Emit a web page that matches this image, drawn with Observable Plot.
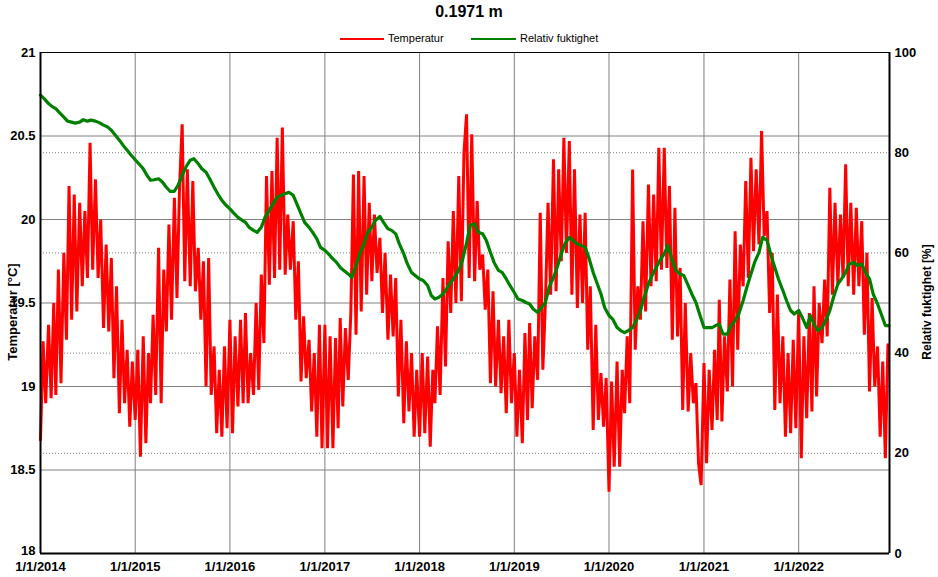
<!DOCTYPE html>
<html><head><meta charset="utf-8">
<script src="https://cdn.jsdelivr.net/npm/d3@7"></script>
<script src="https://cdn.jsdelivr.net/npm/@observablehq/plot@0.6"></script>
<style>
body{margin:0;background:#fff;font-family:"Liberation Sans",Arial,sans-serif;color:#000;}
#wrap{position:relative;width:938px;height:577px;overflow:hidden;}
#head{position:relative;width:938px;height:46px;}
.title{position:absolute;left:0;width:938px;top:3px;text-align:center;font-weight:bold;font-size:16px;}
.lg-line{position:absolute;height:2px;top:38px;}
.lg-text{position:absolute;top:32px;font-size:11px;white-space:nowrap;}
.ylab{position:absolute;font-weight:bold;font-size:13px;white-space:nowrap;transform:translate(-50%,-50%) rotate(-90deg);}
</style>
</head><body>
<div id="wrap">
  <div id="head">
    <div class="title">0.1971 m</div>
    <div class="lg-line" style="left:340px;width:44px;background:#ff0000"></div>
    <div class="lg-text" style="left:388px">Temperatur</div>
    <div class="lg-line" style="left:471px;width:45px;background:#008000"></div>
    <div class="lg-text" style="left:520px">Relativ fuktighet</div>
  </div>
  <div id="chart"></div>
  <div class="ylab" style="left:12px;top:312px">Temperatur [°C]</div>
  <div class="ylab" style="left:927px;top:302px;font-size:12px">Relativ fuktighet [%]</div>
</div>
<script>
// Tick values
const yearTickYears = [2014, 2015, 2016, 2017, 2018, 2019, 2020, 2021, 2022];
const tempTicks = [18.5, 19, 19.5, 20, 20.5, 21];
const tempBottomTick = [18];
const tempGrid = [18.5, 19, 19.5, 20, 20.5];
const rhTicks = [0, 20, 40, 60, 80, 100];
const rhGrid = [20, 40, 60, 80];

// Temperature [°C], readings on day 1, 11, 21 of each month
const temp2014 = [18.68,19.27,18.9, 19.37,18.93,19.5, 18.95,19.7,19.02, 19.8,19.28,20.2, 19.4,20.15,19.45, 20.1,19.6,20.05, 19.65,20.46,19.7, 20.24,19.65,20.0, 19.35,19.85,19.33, 19.77,19.05,19.6, 18.84,19.4,18.9, 19.22,18.76,19.15];
const temp2015 = [18.8,19.22,18.58, 19.3,18.66,19.2, 18.9,19.43,18.95, 19.83,18.9,19.7, 19.33,19.97,19.4, 20.13,19.53,20.2, 20.57,19.63,20.3, 19.6,20.23,19.57, 19.83,19.4,19.75, 19.0,19.77,18.95, 19.24,18.72,19.1, 18.7,19.24,18.75];
const temp2016 = [19.4,18.72,19.3, 18.88,19.4,18.9, 19.44,18.9,19.2, 18.95,19.5,18.98, 19.67,19.26,20.26, 19.61,20.29,19.65, 20.49,19.7,20.55, 19.67,20.03,19.7, 19.99,19.4,19.75, 19.03,19.42,19.05, 19.28,18.85,19.2, 18.7,19.37,18.63];
const temp2017 = [19.37,18.63,19.3, 18.63,19.29,18.75, 19.41,18.88,19.35, 19.04,19.44,20.27, 19.31,20.29,19.45, 20.26,19.55,20.1, 19.63,20.03,19.68, 19.89,19.44,19.8, 19.28,19.67,19.3, 19.65,18.94,19.4, 18.78,19.27,18.85, 19.2,18.7,19.1];
const temp2018 = [18.7,19.2,18.72, 19.18,18.64,19.1, 18.9,19.36,18.95, 19.65,19.12,19.87, 19.44,20.05,19.5, 20.26,19.51,20.4, 20.63,19.65,20.51, 19.63,20.11,19.7, 19.79,19.46,19.7, 19.02,19.57,19.0, 19.4,18.96,19.3, 18.84,19.4,18.9];
const temp2019 = [19.2,18.7,19.1, 18.66,19.32,18.8, 19.38,18.87,19.3, 19.04,20.04,19.1, 19.51,20.1,19.55, 20.36,19.57,20.3, 19.75,20.49,19.8, 20.47,19.55,20.3, 19.47,20.03,19.5, 20.04,19.22,19.6, 18.74,19.37,18.8, 19.08,18.76,19.05];
const temp2020 = [18.37,19.03,18.52, 19.15,18.52,19.1, 18.84,19.3,18.9, 20.3,19.22,19.6, 19.4,19.99,19.45, 20.21,19.6,20.15, 19.63,20.43,19.7, 20.43,19.71,20.2, 19.28,20.07,19.3, 19.71,18.86,19.5, 18.85,19.2,18.9, 19.02,18.54,18.41];
const temp2021 = [19.14,18.54,19.1, 18.74,19.22,18.8, 19.52,18.79,19.3, 18.97,19.64,19.0, 19.93,19.22,19.85, 19.6,20.23,19.65, 20.37,19.81,20.3, 19.85,20.53,19.9, 20.05,19.44,19.8, 18.86,19.55,18.9, 19.3,18.7,19.2, 18.72,19.28,18.75];
const temp2022 = [19.45,18.57,19.3, 18.81,19.44,18.85, 19.6,18.94,19.5, 19.26,19.64,19.3, 20.19,19.55,20.1, 19.61,20.03,19.65, 20.33,19.6,20.1, 19.55,20.07,19.6, 19.99,19.31,19.8, 18.97,19.53,19.0, 19.24,18.7,19.15, 18.57,19.25];

// Relative humidity [%], readings on day 1 and 15 of each month
const rh2014 = [91.5,90.8, 89.8,89.2, 88.8,88.0, 87.1,86.3, 86.1,85.9, 86.1,86.6, 86.3,86.5, 86.3,86.0, 85.5,85.2, 84.5,83.6, 82.5,81.5, 80.5,79.6];
const rh2015 = [78.6,77.8, 76.8,75.5, 74.5,74.6, 74.8,74.2, 73.1,72.3, 72.3,73.5, 75.5,77.1, 78.5,78.8, 77.8,76.8, 76.1,74.8, 73.1,71.8, 70.5,69.6];
const rh2016 = [68.8,68.0, 67.1,66.6, 66.1,65.1, 64.5,64.1, 65.1,67.1, 68.5,69.8, 71.1,71.5, 71.8,72.1, 71.5,69.8, 67.8,66.1, 65.1,64.1, 62.8,61.1];
const rh2017 = [60.5,59.8, 58.8,58.1, 57.1,56.5, 55.8,55.1, 57.5,59.8, 61.8,64.1, 65.1,66.5, 67.3,66.1, 64.8,64.5, 63.8,61.8, 59.8,57.8, 56.1,55.5];
const rh2018 = [54.8,54.5, 53.5,51.5, 50.8,51.1, 51.8,52.8, 54.1,55.1, 56.5,58.5, 62.0,65.5, 65.8,64.1, 63.8,62.5, 60.1,58.1, 56.5,56.1, 54.8,53.5];
const rh2019 = [52.1,50.8, 50.5,50.1, 49.8,48.8, 48.1,49.1, 50.1,53.1, 55.1,57.1, 59.8,61.8, 63.1,62.5, 61.8,61.5, 61.1,59.1, 56.1,54.1, 51.8,49.1];
const rh2020 = [47.5,46.8, 45.1,44.5, 44.1,44.5, 45.1,46.5, 48.5,51.1, 53.8,55.5, 57.1,58.5, 59.8,61.5, 58.5,56.5, 55.8,55.5, 53.5,51.8, 50.1,47.8];
const rh2021 = [45.1,45.1, 45.1,45.5, 45.8,43.8, 43.8,45.5, 46.5,47.8, 50.5,53.1, 55.8,58.1, 60.1,63.1, 62.5,59.8, 57.1,54.8, 52.5,50.5, 48.5,47.8];
const rh2022 = [48.5,47.1, 45.1,47.5, 45.8,44.5, 45.1,46.5, 48.5,51.1, 53.8,54.8, 56.1,57.8, 58.1,57.5, 57.8,56.1, 54.8,51.8, 49.8,47.8, 45.5,45.5];

const dataYears = [2014, 2015, 2016, 2017, 2018, 2019, 2020, 2021, 2022];
const tempByYear = [temp2014, temp2015, temp2016, temp2017, temp2018, temp2019, temp2020, temp2021, temp2022];
const rhByYear = [rh2014, rh2015, rh2016, rh2017, rh2018, rh2019, rh2020, rh2021, rh2022];

const tempData = tempByYear.flatMap((arr, yi) => arr.map((v, i) => ({
  date: new Date(Date.UTC(dataYears[yi], Math.floor(i / 3), 1 + 10 * (i % 3))), value: v })));
const rhData = rhByYear.flatMap((arr, yi) => arr.map((v, i) => ({
  date: new Date(Date.UTC(dataYears[yi], Math.floor(i / 2), i % 2 ? 15 : 1)), value: v })));

const T0 = new Date(Date.UTC(2014, 0, 1));
const T1 = new Date(Date.UTC(2022, 11, 17));
const yearTicks = yearTickYears.map(y => new Date(Date.UTC(y, 0, 1)));
const rh2t = v => 18 + v * 0.03;

const chart = Plot.plot({
  width: 938, height: 531,
  marginTop: 6, marginBottom: 24, marginLeft: 40, marginRight: 49,
  style: {fontFamily: "'Liberation Sans', Arial, sans-serif", fontSize: "13px", fontWeight: "bold", color: "black", background: "white", overflow: "visible"},
  x: {type: "utc", domain: [T0, T1]},
  y: {domain: [18, 21]},
  marks: [
    Plot.ruleX(yearTicks.slice(1), {stroke: "#808080", strokeWidth: 1}),
    Plot.ruleY(tempGrid, {stroke: "#808080", strokeWidth: 1}),
    Plot.ruleY(rhGrid.map(rh2t), {stroke: "#808080", strokeWidth: 1, strokeDasharray: "1,2"}),
    Plot.line(tempData, {x: "date", y: "value", stroke: "#ff0000", strokeWidth: 3, strokeLinejoin: "miter", strokeMiterlimit: 1}),
    Plot.line(rhData, {x: "date", y: d => rh2t(d.value), stroke: "#008000", strokeWidth: 3.2}),
    Plot.ruleX([T0, T1], {stroke: "black", strokeWidth: 2}),
    Plot.ruleY([18], {stroke: "black", strokeWidth: 2}),
    Plot.ruleY([21], {stroke: "black", strokeWidth: 1}),
    Plot.axisX({ticks: yearTicks, tickFormat: d => `1/1/${d.getUTCFullYear()}`, tickSize: 0, tickPadding: 8, label: null}),
    Plot.axisY({anchor: "left", ticks: tempTicks, tickFormat: d => String(d), tickSize: 0, tickPadding: 5, label: null}),
    Plot.axisY({anchor: "left", ticks: tempBottomTick, tickFormat: d => String(d), tickSize: 0, tickPadding: 5, dy: -3, label: null}),
    Plot.axisY({anchor: "right", ticks: rhTicks.map(rh2t), tickFormat: d => String(Math.round((d - 18) / 0.03)), tickSize: 0, tickPadding: 5, label: null})
  ]
});
document.getElementById("chart").appendChild(chart);
</script>
</body></html>
